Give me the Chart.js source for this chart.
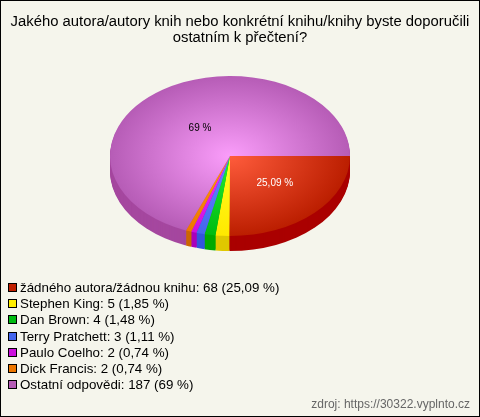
<!DOCTYPE html>
<html>
<head>
<meta charset="utf-8">
<script src="https://cdn.jsdelivr.net/npm/chart.js@4"></script>
<style>
html, body { margin: 0; padding: 0; }
body { width: 480px; height: 417px; overflow: hidden; font-family: "Liberation Sans", Arial, sans-serif; }
#box { position: relative; width: 478px; height: 415px; border: 1px solid #000; background: #f5f5ec; }
#chart { position: absolute; left: -1px; top: -1px; }
#title { position: absolute; left: 0; right: 0; top: 12px; text-align: center; font-size: 14.85px; line-height: 16px; color: #000; }
#legend { position: absolute; left: 7px; top: 279px; font-size: 13.33px; color: #000; }
#legend div { height: 16.2px; line-height: 16.2px; white-space: nowrap; }
#legend i { display: inline-block; width: 7px; height: 7px; border: 1px solid #000; margin-right: 3px; }
#credit { position: absolute; right: 9px; top: 396px; font-size: 12px; color: #666; }
</style>
</head>
<body>
<div id="box">
  <canvas id="chart" width="480" height="417"></canvas>
  <div id="title">Jakého autora/autory knih nebo konkrétní knihu/knihy byste doporučili<br>ostatním k přečtení?</div>
  <div id="legend"></div>
  <div id="credit">zdroj: https://30322.vyplnto.cz</div>
</div>
<script>
const categories = ["žádného autora/žádnou knihu", "Stephen King", "Dan Brown", "Terry Pratchett", "Paulo Coelho", "Dick Francis", "Ostatní odpovědi"];
const counts = [68, 5, 4, 3, 2, 2, 187];
const percents = ["25,09", "1,85", "1,48", "1,11", "0,74", "0,74", "69"];
const innerColors = ["#ff5c3c", "#ffff22", "#22ee33", "#6688ff", "#ee33ff", "#ff9911", "#fa9dfa"];
const outerColors = ["#bb1e00", "#ffe800", "#00bb11", "#4466ee", "#cc11dd", "#ee7700", "#b65cb6"];
const sideColors = ["#aa0000", "#e0c800", "#00aa00", "#3355dd", "#aa00bb", "#cc6600", "#a5479f"];
const legendColors = ["#c01f00", "#ffee00", "#00bb11", "#4466ee", "#cc11dd", "#ee7700", "#b65cb6"];
const sliceLabels = ["25,09 %", "", "", "", "", "", "69 %"];
const labelColors = ["#fff", "", "", "", "", "", "#000"];

const squash = 2 / 3;
const depth = 15;

document.getElementById("legend").innerHTML = categories.map((c, i) =>
    `<div><i style="background:${legendColors[i]}"></i>${c}: ${counts[i]} (${percents[i]} %)</div>`).join("");

function sliceFill(context) {
    const area = context.chart.chartArea;
    if (!area) return innerColors[context.dataIndex];
    const cx = (area.left + area.right) / 2;
    const cy = (area.top + area.bottom) / 2;
    const g = context.chart.ctx.createRadialGradient(cx, cy, 0, cx, cy, (area.right - area.left) / 2);
    g.addColorStop(0, innerColors[context.dataIndex]);
    g.addColorStop(1, outerColors[context.dataIndex]);
    return g;
}

// squashes the round pie into an ellipse and draws the side wall below it
const pie3d = {
    id: "pie3d",
    beforeDatasetsDraw(chart) {
        const ctx = chart.ctx;
        const arcs = chart.getDatasetMeta(0).data;
        for (let d = depth; d > 0; d--) {
            arcs.forEach((arc, i) => {
                ctx.fillStyle = sideColors[i];
                ctx.beginPath();
                ctx.moveTo(arc.x, arc.y + d);
                ctx.ellipse(arc.x, arc.y + d, arc.outerRadius, arc.outerRadius * squash, 0, arc.startAngle, arc.endAngle);
                ctx.closePath();
                ctx.fill();
            });
        }
    },
    beforeDatasetDraw(chart) {
        const arc = chart.getDatasetMeta(0).data[0];
        chart.ctx.save();
        chart.ctx.translate(0, arc.y);
        chart.ctx.scale(1, squash);
        chart.ctx.translate(0, -arc.y);
    },
    afterDatasetDraw(chart) {
        chart.ctx.restore();
    },
    afterDatasetsDraw(chart) {
        const ctx = chart.ctx;
        ctx.font = '10px "Liberation Sans", Arial, sans-serif';
        ctx.textAlign = "center";
        ctx.textBaseline = "middle";
        chart.getDatasetMeta(0).data.forEach((arc, i) => {
            if (!sliceLabels[i]) return;
            const mid = (arc.startAngle + arc.endAngle) / 2;
            // big slice label sits closer to the centre than the red one
            const fx = i === 0 ? 0.53 : 0.445;
            const fy = i === 0 ? 0.48 : 0.42;
            ctx.fillStyle = labelColors[i];
            ctx.fillText(sliceLabels[i], arc.x + Math.cos(mid) * arc.outerRadius * fx, arc.y + Math.sin(mid) * arc.outerRadius * squash * fy);
        });
    }
};

new Chart(document.getElementById("chart"), {
    type: "pie",
    data: {
        labels: categories,
        datasets: [{ data: counts, backgroundColor: sliceFill, borderWidth: 0 }]
    },
    options: {
        responsive: false,
        animation: false,
        rotation: 90,
        layout: { padding: { left: 110, right: 130, top: 36, bottom: 141 } },
        plugins: { legend: { display: false }, title: { display: false }, tooltip: { enabled: false } }
    },
    plugins: [pie3d]
});
</script>
</body>
</html>
